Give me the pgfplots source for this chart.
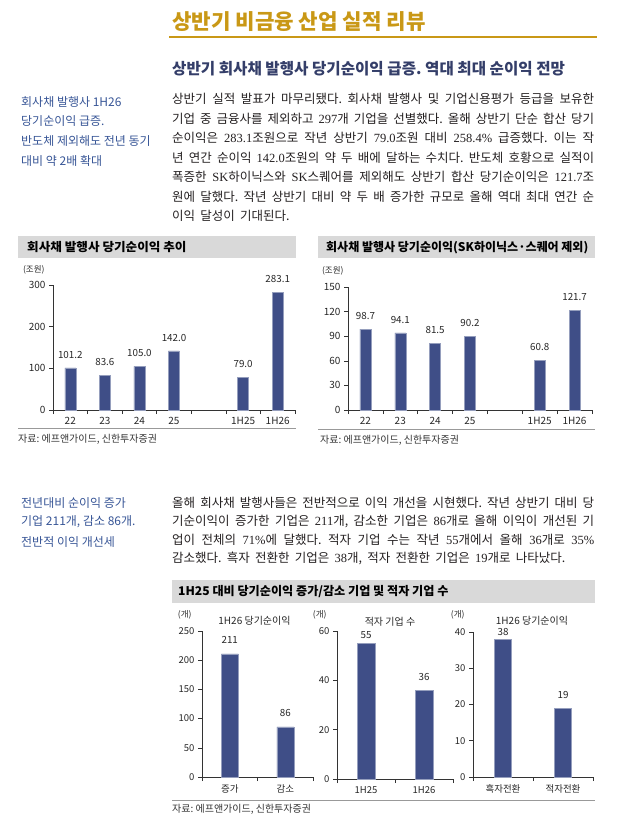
\documentclass[border=0pt]{standalone}
\usepackage{pgfplots}
\pgfplotsset{compat=1.18}
\usepackage{fontspec}
\setmainfont{Noto Sans CJK KR}
\newfontfamily\tnr{Liberation Serif}
\frenchspacing

\definecolor{gold}{RGB}{201,152,22}
\definecolor{subnavy}{RGB}{52,62,105}
\definecolor{noteblue}{RGB}{55,85,150}
\definecolor{bandgray}{RGB}{217,217,217}
\definecolor{bodytxt}{RGB}{35,31,32}
\definecolor{barblue}{RGB}{63,78,135}

\newcommand{\tn}[1]{{\tnr #1}}
% justified line / last line of a paragraph
\newcommand{\jl}[1]{\hbox to 422pt{\frenchspacing\spaceskip=0.22em plus 1fil\xspaceskip=0.22em plus 1fil\relax #1}}
\newcommand{\lastline}[1]{\hbox{\frenchspacing\spaceskip=0.42em\xspaceskip=0.42em\relax #1}}

\pgfplotsset{
  /pgf/number format/assume math mode=true,
  barax/.style={
    scale only axis, clip=false,
    axis x line*=bottom, axis y line*=left,
    axis line style={-, black!80, line width=0.6pt},
    tick align=outside,
    tick style={black!80, line width=0.6pt},
    major tick length=4pt, minor tick length=4pt,
    major x tick style={draw=none},
    ymin=0, xmin=-0.5,
    ybar, bar shift=0pt,
    tick label style={font=\fontsize{10}{12}\selectfont, text=black!85},
    nodes near coords,
    every node near coord/.append style={font=\fontsize{9.8}{11}\selectfont, text=black!85},
  },
  bars/.style={fill=barblue, draw=barblue!55!white, line width=0.4pt},
}

\begin{document}
\begin{tikzpicture}
\path[use as bounding box] (0,0) rectangle (617pt,-817pt);

% title block
\node[anchor=west, inner sep=0, text=gold, font=\fontsize{21.2}{24}\selectfont\bfseries] at (172pt,-22pt) {상반기 비금융 산업 실적 리뷰};
\draw[gold, line width=1.1pt] (169pt,-37pt) -- (597pt,-37pt);
\node[anchor=west, inner sep=0, text=subnavy, font=\fontsize{15.6}{18}\selectfont\bfseries] at (172pt,-69pt) {상반기 회사채 발행사 당기순이익 급증. 역대 최대 순이익 전망};

% side notes
\begin{scope}[every node/.style={anchor=west, inner sep=0, text=noteblue, font=\fontsize{12}{14}\selectfont}]
\node at (21pt,-102pt) {회사채 발행사 1H26};
\node at (21pt,-121.5pt) {당기순이익 급증.};
\node at (21pt,-141pt) {반도체 제외해도 전년 동기};
\node at (21pt,-160.5pt) {대비 약 2배 확대};
\node at (21pt,-503pt) {전년대비 순이익 증가};
\node at (21pt,-522pt) {기업 211개, 감소 86개.};
\node at (21pt,-542pt) {전반적 이익 개선세};
\end{scope}

% body text
\begin{scope}[every node/.style={anchor=west, inner sep=0, text=bodytxt, font=\fontsize{12.5}{14}\selectfont}]
\node at (172pt,-99pt) {\jl{상반기 실적 발표가 마무리됐다. 회사채 발행사 및 기업신용평가 등급을 보유한}};
\node at (172pt,-118.5pt) {\jl{기업 중 금융사를 제외하고 \tn{297}개 기업을 선별했다. 올해 상반기 단순 합산 당기}};
\node at (172pt,-138pt) {\jl{순이익은 \tn{283.1}조원으로 작년 상반기 \tn{79.0}조원 대비 \tn{258.4\%} 급증했다. 이는 작}};
\node at (172pt,-157.5pt) {\jl{년 연간 순이익 \tn{142.0}조원의 약 두 배에 달하는 수치다. 반도체 호황으로 실적이}};
\node at (172pt,-177pt) {\jl{폭증한 \tn{SK}하이닉스와 \tn{SK}스퀘어를 제외해도 상반기 합산 당기순이익은 \tn{121.7}조}};
\node at (172pt,-196.5pt) {\jl{원에 달했다. 작년 상반기 대비 약 두 배 증가한 규모로 올해 역대 최대 연간 순}};
\node at (172pt,-216pt) {\lastline{이익 달성이 기대된다.}};
\node at (172pt,-503pt) {\jl{올해 회사채 발행사들은 전반적으로 이익 개선을 시현했다. 작년 상반기 대비 당}};
\node at (172pt,-521.5pt) {\jl{기순이익이 증가한 기업은 \tn{211}개, 감소한 기업은 \tn{86}개로 올해 이익이 개선된 기}};
\node at (172pt,-540pt) {\jl{업이 전체의 \tn{71\%}에 달했다. 적자 기업 수는 작년 \tn{55}개에서 올해 \tn{36}개로 \tn{35\%}}};
\node at (172pt,-558.5pt) {\lastline{감소했다. 흑자 전환한 기업은 \tn{38}개, 적자 전환한 기업은 \tn{19}개로 나타났다.}};
\end{scope}

% header bands
\fill[bandgray] (18pt,-236pt) rectangle (296pt,-258pt);
\fill[bandgray] (318pt,-236pt) rectangle (595pt,-258pt);
\fill[bandgray] (172pt,-580pt) rectangle (595pt,-603pt);
\begin{scope}[every node/.style={anchor=west, inner sep=0, text=black, font=\fontsize{12}{14}\selectfont\bfseries}]
\node at (27pt,-247.5pt) {\scalebox{1.05}[1]{회사채 발행사 당기순이익 추이}};
\node at (326pt,-247.5pt) {회사채 발행사 당기순이익(SK하이닉스·스퀘어 제외)};
\node at (178pt,-592pt) {\scalebox{1.01}[1]{1H25 대비 당기순이익 증가/감소 기업 및 적자 기업 수}};
\end{scope}

% source lines
\draw[black!40, line width=0.8pt] (18pt,-428pt) -- (296pt,-428pt);
\draw[black!40, line width=0.8pt] (318pt,-429pt) -- (595pt,-429pt);
\draw[black!40, line width=0.8pt] (172pt,-800pt) -- (595pt,-800pt);
\begin{scope}[every node/.style={anchor=west, inner sep=0, text=black!80, font=\fontsize{10}{12}\selectfont}]
\node at (18pt,-439pt) {자료: 에프앤가이드, 신한투자증권};
\node at (320pt,-440pt) {자료: 에프앤가이드, 신한투자증권};
\node at (172pt,-809pt) {자료: 에프앤가이드, 신한투자증권};
\end{scope}

% chart 1
\begin{axis}[barax, at={(53pt,-410pt)}, anchor=south west,
  width=242pt, height=125pt, xmax=6.5, ymax=300,
  ytick={0,100,200,300}, bar width=11pt,
  xtick={0,1,2,3,5,6}, xticklabels={22,23,24,25,1H25,1H26},
  minor xtick={-0.5,0.5,...,6.5},
  nodes near coords={\pgfmathprintnumber[fixed,fixed zerofill,precision=1]{\pgfplotspointmeta}},
  every node near coord/.append style={yshift=6pt}]
\addplot[bars] coordinates {(0,101.2) (1,83.6) (2,105.0) (3,142.0) (5,79.0) (6,283.1)};
\node[anchor=east, font=\fontsize{8.5}{10}\selectfont, text=black!85] at (rel axis cs:0,1) [xshift=-5pt, yshift=15pt] {(조원)};
\end{axis}

% chart 2
\begin{axis}[barax, at={(348pt,-410pt)}, anchor=south west,
  width=244pt, height=123pt, xmax=6.5, ymax=150,
  ytick={0,30,60,90,120,150}, bar width=11pt,
  xtick={0,1,2,3,5,6}, xticklabels={22,23,24,25,1H25,1H26},
  minor xtick={-0.5,0.5,...,6.5},
  nodes near coords={\pgfmathprintnumber[fixed,fixed zerofill,precision=1]{\pgfplotspointmeta}},
  every node near coord/.append style={yshift=6pt}]
\addplot[bars] coordinates {(0,98.7) (1,94.1) (2,81.5) (3,90.2) (5,60.8) (6,121.7)};
\node[anchor=east, font=\fontsize{8.5}{10}\selectfont, text=black!85] at (rel axis cs:0,1) [xshift=-1pt, yshift=16pt] {(조원)};
\end{axis}

% chart A
\begin{axis}[barax, at={(202pt,-777pt)}, anchor=south west,
  width=111pt, height=146pt, xmax=1.5, ymax=250,
  ytick={0,50,...,250}, bar width=17pt,
  xtick={0,1}, xticklabels={증가,감소},
  minor xtick={-0.5,0.5,1.5},
  tick label style={font=\fontsize{9.5}{11}\selectfont},
  every node near coord/.append style={yshift=7pt}]
\addplot[bars] coordinates {(0,211) (1,86)};
\node[anchor=east, font=\fontsize{8.5}{10}\selectfont, text=black!85] at (rel axis cs:0,1) [xshift=-7pt, yshift=16pt] {(개)};
\node[font=\fontsize{10}{12}\selectfont, text=black!85] at (rel axis cs:0.5,1) [xshift=-3pt, yshift=10pt] {1H26 당기순이익};
\end{axis}

% chart B
\begin{axis}[barax, at={(337pt,-779pt)}, anchor=south west,
  width=116pt, height=148pt, xmax=1.5, ymax=60,
  ytick={0,20,40,60}, bar width=17.5pt,
  xtick={0,1}, xticklabels={1H25,1H26},
  minor xtick={-0.5,0.5,1.5},
  tick label style={font=\fontsize{9.5}{11}\selectfont}]
\addplot[bars, every node near coord/.append style={yshift=1.5pt}] coordinates {(0,55)};
\addplot[bars, every node near coord/.append style={yshift=6pt}] coordinates {(1,36)};
\node[anchor=east, font=\fontsize{8.5}{10}\selectfont, text=black!85] at (rel axis cs:0,1) [xshift=-7pt, yshift=16pt] {(개)};
\node[font=\fontsize{10}{12}\selectfont, text=black!85] at (rel axis cs:0.5,1) [xshift=-5pt, yshift=9pt] {적자 기업 수};
\end{axis}

% chart C
\begin{axis}[barax, at={(473pt,-777pt)}, anchor=south west,
  width=120pt, height=145pt, xmax=1.5, ymax=40,
  ytick={0,10,20,30,40}, bar width=17pt,
  xtick={0,1}, xticklabels={흑자전환,적자전환},
  minor xtick={-0.5,0.5,1.5},
  tick label style={font=\fontsize{9.5}{11}\selectfont}]
\addplot[bars, every node near coord/.append style={yshift=0pt}] coordinates {(0,38)};
\addplot[bars, every node near coord/.append style={yshift=6pt}] coordinates {(1,19)};
\node[anchor=east, font=\fontsize{8.5}{10}\selectfont, text=black!85] at (rel axis cs:0,1) [xshift=-5pt, yshift=17pt] {(개)};
\node[font=\fontsize{10}{12}\selectfont, text=black!85] at (rel axis cs:0.5,1) [xshift=-1pt, yshift=11pt] {1H26 당기순이익};
\end{axis}
\end{tikzpicture}
\end{document}
